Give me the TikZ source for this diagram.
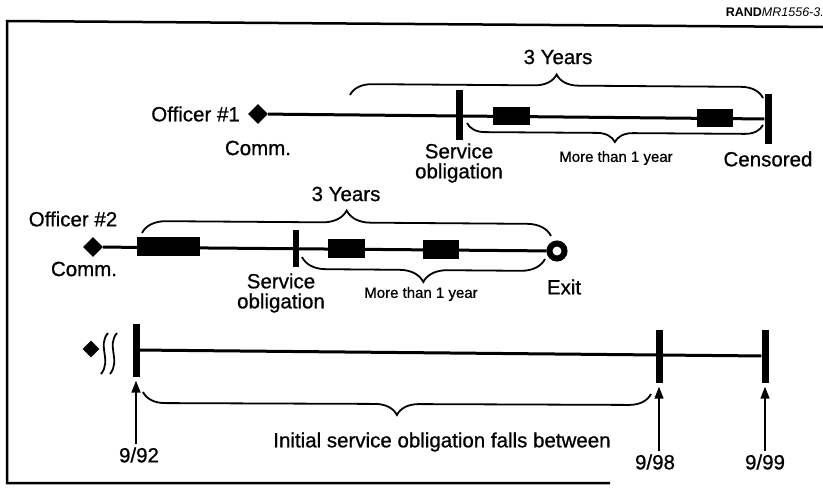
\documentclass[tikz,border=0pt]{standalone}
\usepackage{fontspec}
\setmainfont{Liberation Sans}
\newfontface\heavy{Liberation Sans}[FakeBold=0.8]
\usetikzlibrary{arrows.meta,positioning,shapes.geometric,decorations.pathreplacing}

\begin{document}
\begin{tikzpicture}[
  x=1pt,y=-1pt,
  lbl/.style={font=\heavy\fontsize{20.5}{20}\selectfont,align=center,inner sep=0pt},
  small/.style={font=\heavy\fontsize{15}{16}\selectfont,inner sep=0pt},
  tl/.style={line width=3pt},
  bar/.style={fill=black,inner sep=0pt,minimum width=7pt,minimum height=#1},
  blk/.style={fill=black,inner sep=0pt,minimum width=#1,minimum height=18pt},
  dia/.style={diamond,fill=black,inner sep=0pt,minimum size=#1},
  brc/.style={decorate,decoration={brace,amplitude=#1},line width=1.8pt},
  mbrc/.style={decorate,decoration={brace,mirror,amplitude=#1},line width=1.8pt},
  arr/.style={-{Triangle[length=12pt,width=9pt]},line width=1.6pt,shorten >=4pt,shorten <=3pt}
]
\useasboundingbox (0,0) rectangle (823,491);

\draw[line width=2.5pt] (610,483) -- (7,483) -- (7,21) -- (823,27);
\node[anchor=east,inner sep=0pt,font=\fontsize{12.5}{13}\selectfont] (rand) at (824,12) {\textbf{RAND}\textit{MR1556-3.}};

\node[dia=20pt] (d1) at (258,114) {};
\node[bar=50pt] (s1) at (459,115) {};
\node[bar=50pt] (c1) at (768,119) {};
\node[blk=37pt] (k1) at (511,116) {};
\node[blk=36pt] (k2) at (715,118) {};
\draw[tl] (d1) -- (c1);

\node[lbl,anchor=east] (o1) at (240,114) {Officer \#1};
\node[lbl] (cm1) at (258,148) {Comm.};
\node[lbl] (so1) at (459,163) {Service\\obligation};
\node[small] (m1) at (616,158) {More than 1 year};
\node[lbl] (ce1) at (768,159) {Censored};
\node[lbl] (y1) at (558,57) {3 Years};
\coordinate (u1a) at (350,95);
\coordinate (u1b) at (763,98);
\coordinate (l1a) at (467,123);
\coordinate (l1b) at (763,125);
\draw[brc=22pt] (u1a) -- (u1b);
\draw[mbrc=18pt] (l1a) -- (l1b);

\node[dia=20pt] (d2) at (93,247) {};
\node[circle,draw,fill=white,line width=6pt,minimum size=15pt,inner sep=0pt] (x2) at (557,251) {};
\node[blk=63pt,minimum height=19pt] (k3) at (168,246) {};
\node[bar=37pt,minimum width=6pt] (s2) at (296,248) {};
\node[blk=37pt,minimum height=19pt] (k4) at (346,248) {};
\node[blk=36pt,minimum height=19pt] (k5) at (441,249.5) {};
\draw[tl] (d2) -- (x2);

\node[lbl] (o2) at (73,219) {Officer \#2};
\node[lbl] (cm2) at (84,269) {Comm.};
\node[lbl] (y2) at (346,194) {3 Years};
\node[lbl] (so2) at (281,293) {Service\\obligation};
\node[small] (m2) at (421,294) {More than 1 year};
\node[lbl] (ex2) at (564,287) {Exit};
\coordinate (u2a) at (142,233);
\coordinate (u2b) at (551,236);
\coordinate (l2a) at (302,257);
\coordinate (l2b) at (545,259);
\draw[brc=24pt] (u2a) -- (u2b);
\draw[mbrc=24pt] (l2a) -- (l2b);

\node[dia=17pt] (d3) at (91,349) {};
\node[bar=53pt] (b92) at (136,350) {};
\node[bar=53pt] (b98) at (659,356) {};
\node[bar=53pt] (b99) at (765,356) {};
\draw[tl] (b92) -- (b99);
\draw[line width=1.8pt] (108,333) .. controls (97,346) and (112,360) .. (101,374);
\draw[line width=1.8pt] (117,333) .. controls (106,346) and (121,360) .. (110,374);

\node[lbl] (t92) at (139,455) {9/92};
\node[lbl] (t98) at (655,462) {9/98};
\node[lbl] (t99) at (765,462) {9/99};
\node[lbl] (ini) at (442,442) {Initial service obligation falls between};
\draw[arr] (t92.north -| b92) -- (b92);
\draw[arr] (t98.north -| b98) -- (b98);
\draw[arr] (t99.north -| b99) -- (b99);
\coordinate (l3a) at (143,392);
\coordinate (l3b) at (651,394);
\draw[mbrc=22pt] (l3a) -- (l3b);

\end{tikzpicture}
\end{document}
